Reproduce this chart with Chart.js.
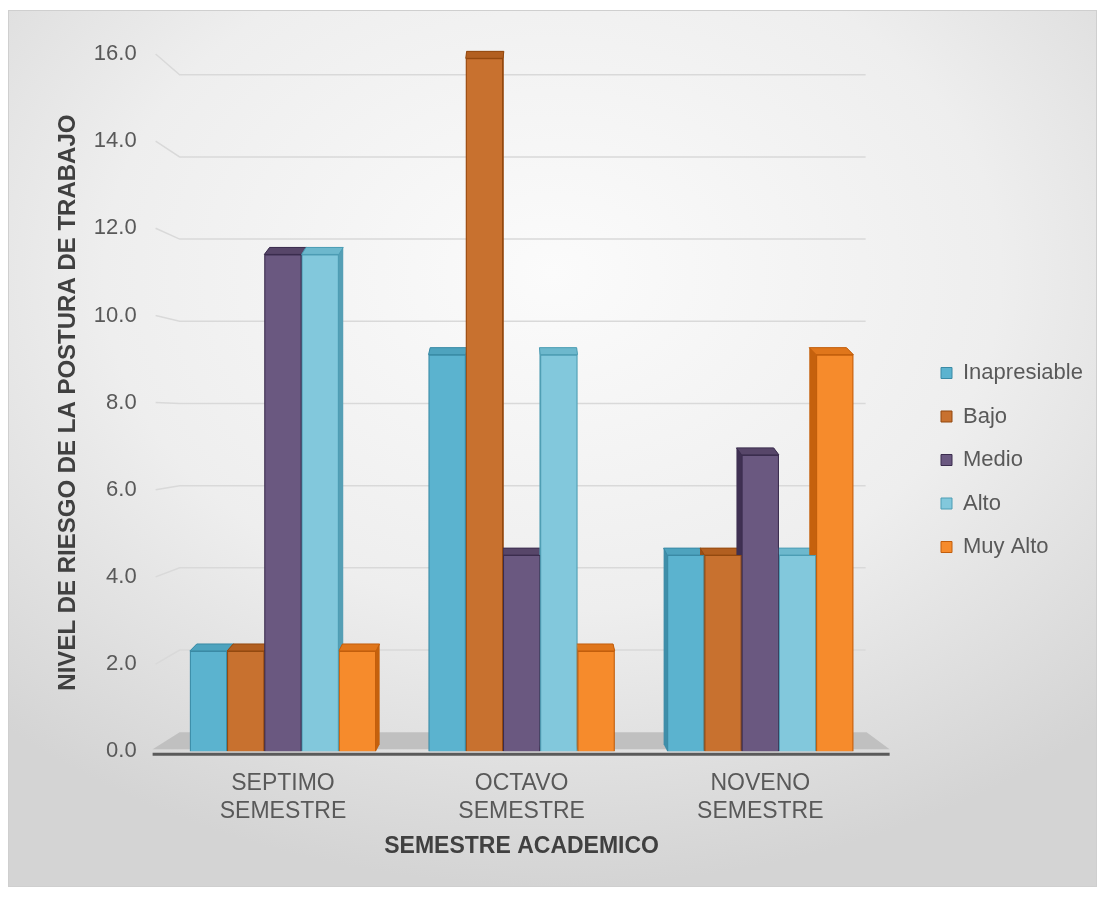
<!DOCTYPE html>
<html>
<head>
<meta charset="utf-8">
<script src="https://cdn.jsdelivr.net/npm/chart.js@4"></script>
<style>
  html, body { margin: 0; padding: 0; background: #fff; }
  #panel {
    position: absolute; left: 8px; top: 10px; width: 1089px; height: 877px;
    box-sizing: border-box; border: 1px solid #cfcfcf;
    background: radial-gradient(ellipse 75% 70% at 50% 30%, #fbfbfb 0%, #eeeeee 55%, #d4d4d4 100%);
  }
  #grafico { position: absolute; left: 0; top: 0; }
</style>
</head>
<body>
<div id="panel"></div>
<canvas id="grafico" width="1105" height="897"></canvas>
<script>
// semestres y porcentajes por nivel de riesgo
const semestres = [["SEPTIMO", "SEMESTRE"], ["OCTAVO", "SEMESTRE"], ["NOVENO", "SEMESTRE"]];
const inapresiable = [2.3, 9.1, 4.5];
const bajo = [2.3, 15.9, 4.5];
const medio = [11.4, 4.5, 6.8];
const alto = [11.4, 9.1, 4.5];
const muyAlto = [2.3, 2.3, 9.1];
const marcasY = [0, 2, 4, 6, 8, 10, 12, 14, 16];

Chart.defaults.font.family = "'Liberation Sans', Arial, sans-serif";

// piso, lineas de division y caras laterales de las barras (efecto 3D)
const fondo3d = {
  id: "fondo3d",
  beforeDatasetsDraw(chart) {
    const { ctx, chartArea: a, scales: { y } } = chart;
    const base = y.getPixelForValue(0);
    const fondo = base - 19;
    const k = 0.943;
    ctx.save();

    ctx.strokeStyle = "#d9d9d9";
    ctx.lineWidth = 1.5;
    y.ticks.forEach(t => {
      if (t.value === 0) return;
      const py = y.getPixelForValue(t.value);
      const by = fondo - (base - py) * k;
      ctx.beginPath();
      ctx.moveTo(a.left - 8, py);
      ctx.lineTo(a.left + 16, by);
      ctx.lineTo(a.right - 14, by);
      ctx.stroke();
    });

    ctx.fillStyle = "#c0c0c0";
    ctx.beginPath();
    ctx.moveTo(a.left - 11, base - 2);
    ctx.lineTo(a.left + 16, fondo);
    ctx.lineTo(a.right - 13, fondo);
    ctx.lineTo(a.right + 10, base - 2);
    ctx.closePath();
    ctx.fill();
    ctx.strokeStyle = "#5a5a5a";
    ctx.lineWidth = 3;
    ctx.beginPath();
    ctx.moveTo(a.left - 11, base + 3);
    ctx.lineTo(a.right + 10, base + 3);
    ctx.stroke();

    const cx = (a.left + a.right) / 2;
    chart.data.datasets.forEach((ds, i) => {
      chart.getDatasetMeta(i).data.forEach(bar => {
        const l = bar.x - bar.width / 2, r = bar.x + bar.width / 2;
        const dx = (cx - bar.x) * 0.022, dy = 7;
        ctx.fillStyle = ds.colorLado;
        ctx.beginPath();
        if (dx >= 0) {
          ctx.moveTo(l, bar.base); ctx.lineTo(l, bar.y);
          ctx.lineTo(l + dx, bar.y - dy); ctx.lineTo(r + dx, bar.y - dy);
          ctx.lineTo(r + dx, bar.base - dy); ctx.lineTo(r, bar.base);
        } else {
          ctx.moveTo(r, bar.base); ctx.lineTo(r, bar.y);
          ctx.lineTo(r + dx, bar.y - dy); ctx.lineTo(l + dx, bar.y - dy);
          ctx.lineTo(l + dx, bar.base - dy); ctx.lineTo(l, bar.base);
        }
        ctx.closePath();
        ctx.fill();
        ctx.fillStyle = ds.colorTapa;
        ctx.strokeStyle = ds.borderColor;
        ctx.lineWidth = 1;
        ctx.beginPath();
        ctx.moveTo(l, bar.y); ctx.lineTo(r, bar.y);
        ctx.lineTo(r + dx, bar.y - dy); ctx.lineTo(l + dx, bar.y - dy);
        ctx.closePath();
        ctx.fill();
        ctx.stroke();
      });
    });
    ctx.restore();
  },
  afterLayout(chart) {
    // leyenda a la derecha, algo separada del area de trazado
    const lg = chart.legend;
    const dx = 941 - lg.options.labels.padding - lg.left;
    lg.left += dx; lg.right += dx;
    lg.top += 3; lg.bottom += 3;
  }
};

const serie = (label, data, fondo, borde, lado, tapa) => ({
  label, data,
  backgroundColor: fondo,
  borderColor: borde,
  borderWidth: 1,
  colorLado: lado,
  colorTapa: tapa
});

new Chart(document.getElementById("grafico"), {
  type: "bar",
  data: {
    labels: semestres,
    datasets: [
      serie("Inapresiable", inapresiable, "#5bb3cf", "#3a8aa5", "#3f8ea9", "#4ea3be"),
      serie("Bajo", bajo, "#c8712f", "#93490f", "#9a4f17", "#b25f20"),
      serie("Medio", medio, "#6a5880", "#3b2d4e", "#3f3052", "#574669"),
      serie("Alto", alto, "#82c8dc", "#4c9db4", "#559fb5", "#6db8cd"),
      serie("Muy Alto", muyAlto, "#f68b2c", "#c25e0c", "#c5610d", "#e0761b")
    ]
  },
  options: {
    responsive: false,
    animation: false,
    layout: { padding: { left: 20, top: 54, right: 52, bottom: 37 } },
    datasets: { bar: { categoryPercentage: 0.78, barPercentage: 1.0 } },
    scales: {
      x: {
        grid: { display: false, drawTicks: false },
        border: { display: false },
        ticks: { color: "#595959", font: { size: 23 }, padding: 19, maxRotation: 0 },
        title: {
          display: true, text: "SEMESTRE ACADEMICO", color: "#404040",
          font: { size: 23, weight: "bold" }, padding: { top: -12, bottom: 0 }
        }
      },
      y: {
        min: 0, max: 16,
        grid: { display: false, drawTicks: false },
        border: { display: false },
        afterBuildTicks: s => { s.ticks = marcasY.map(v => ({ value: v })); },
        ticks: { color: "#595959", font: { size: 22 }, padding: 27, callback: v => Number(v).toFixed(1) },
        title: {
          display: true, text: "NIVEL DE RIESGO DE LA POSTURA DE TRABAJO", color: "#404040",
          font: { size: 24, weight: "bold" }, padding: { top: 34, bottom: -16 }
        }
      }
    },
    plugins: {
      legend: {
        position: "right",
        labels: { boxWidth: 11, boxHeight: 11, padding: 21.5, color: "#595959", font: { size: 22 } }
      },
      tooltip: { enabled: false }
    }
  },
  plugins: [fondo3d]
});
</script>
</body>
</html>
